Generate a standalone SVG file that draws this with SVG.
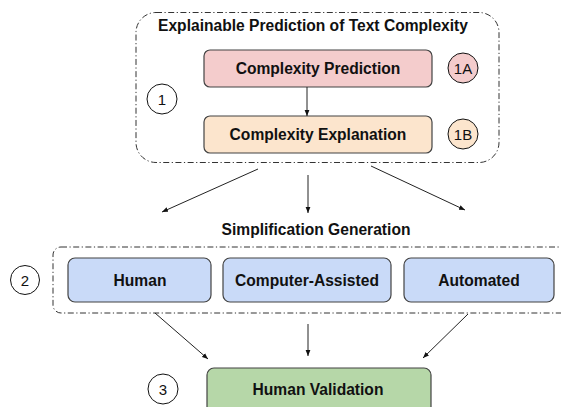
<svg xmlns="http://www.w3.org/2000/svg" width="561" height="407" viewBox="0 0 561 407">
<style>
.grp{fill:none;stroke:#333;stroke-width:1;stroke-dasharray:6 2.5 1.2 2.5}
.box{stroke:#434343;stroke-width:1.2}
.t{font-family:"Liberation Sans",Arial,sans-serif;font-weight:bold;font-size:15.6px;fill:#111;text-anchor:middle}
.n{font-family:"Liberation Sans",Arial,sans-serif;font-size:15px;fill:#111;text-anchor:middle}
.c{stroke:#111;stroke-width:1}
.e{stroke:#222;stroke-width:1;fill:none;marker-end:url(#ah)}
</style>
<defs>
<marker id="ah" viewBox="0 0 10 10" refX="10" refY="5" markerWidth="6" markerHeight="6" markerUnits="userSpaceOnUse" orient="auto">
<path d="M0,1 L10,5 L0,9 z" fill="#111"/>
</marker>
</defs>
<rect width="561" height="407" fill="#fff"/>
<g id="group1">
<rect class="grp" x="136" y="12.5" width="363" height="150" rx="20"/>
<text class="t" x="313" y="31">Explainable Prediction of Text Complexity</text>
</g>
<g id="group2">
<rect class="grp" x="53" y="247" width="540" height="66" rx="8"/>
<text class="t" x="316" y="235">Simplification Generation</text>
</g>
<g id="badge1"><circle class="c" cx="162" cy="99" r="15" fill="#fff"/><text class="n" x="162" y="104.5">1</text></g>
<g id="badge1A"><circle class="c" cx="463" cy="68" r="15" fill="#f4cccc"/><text class="n" x="463" y="73.5">1A</text></g>
<g id="badge1B"><circle class="c" cx="463" cy="134" r="15" fill="#fce5cd"/><text class="n" x="463" y="139.5">1B</text></g>
<g id="badge2"><circle class="c" cx="25" cy="280" r="14.5" fill="#fff"/><text class="n" x="25" y="285.5">2</text></g>
<g id="badge3"><circle class="c" cx="163" cy="389" r="15" fill="#fff"/><text class="n" x="163" y="394.5">3</text></g>
<g id="prediction"><rect class="box" x="204" y="50" width="228" height="37" rx="6" fill="#f4cccc"/><text class="t" x="318" y="74">Complexity Prediction</text></g>
<g id="explanation"><rect class="box" x="204" y="116" width="228" height="37" rx="6" fill="#fce5cd"/><text class="t" x="318" y="140">Complexity Explanation</text></g>
<g id="human"><rect class="box" x="68" y="258" width="143" height="44" rx="7" fill="#c9daf8"/><text class="t" x="140" y="286">Human</text></g>
<g id="computer"><rect class="box" x="223" y="258" width="168" height="44" rx="7" fill="#c9daf8"/><text class="t" x="307" y="286">Computer-Assisted</text></g>
<g id="automated"><rect class="box" x="404" y="258" width="150" height="44" rx="7" fill="#c9daf8"/><text class="t" x="479" y="286">Automated</text></g>
<g id="validation"><rect class="box" x="207" y="368" width="224" height="60" rx="7" fill="#b6d7a8"/><text class="t" x="318" y="395">Human Validation</text></g>
<g id="connectors">
<line class="e" x1="307" y1="87" x2="307" y2="116"/>
<line class="e" x1="258" y1="169" x2="162" y2="212"/>
<line class="e" x1="308" y1="175" x2="308" y2="213"/>
<line class="e" x1="371" y1="166" x2="465" y2="210"/>
<line class="e" x1="155" y1="313" x2="208" y2="359"/>
<line class="e" x1="308" y1="324" x2="308" y2="356"/>
<line class="e" x1="468" y1="314" x2="423" y2="358"/>
</g>
</svg>
